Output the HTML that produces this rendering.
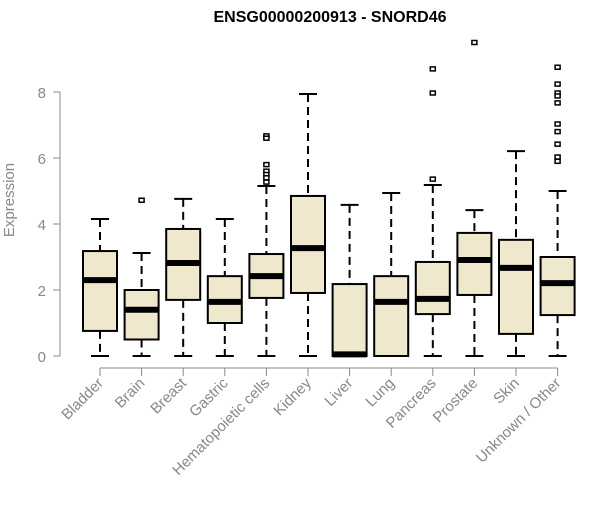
<!DOCTYPE html>
<html><head><meta charset="utf-8"><style>body{margin:0;background:#fff}svg{font-family:"Liberation Sans",sans-serif}</style></head>
<body>
<svg id="c" width="600" height="500">
<text x="330" y="22" text-anchor="middle" font-weight="bold" font-size="16">ENSG00000200913 - SNORD46</text>
<text transform="translate(14,200) rotate(-90)" text-anchor="middle" font-size="15" fill="#888">Expression</text>
</svg>
<script>
const categories=["Bladder","Brain","Breast","Gastric","Hematopoietic cells","Kidney","Liver","Lung","Pancreas","Prostate","Skin","Unknown / Other"];
const lows=[0,0,0,0,0,0,0,0,0,0,0,0];
const q1s=[0.76,0.5,1.7,1.0,1.76,1.91,0,0,1.27,1.85,0.67,1.24];
const medians=[2.3,1.4,2.82,1.64,2.42,3.27,0.05,1.64,1.73,2.91,2.67,2.21];
const q3s=[3.18,2.0,3.85,2.42,3.09,4.85,2.18,2.42,2.85,3.73,3.52,3.0];
const highs=[4.15,3.12,4.76,4.15,5.15,7.94,4.58,4.94,5.18,4.42,6.21,5.0];
const outliers=[[],[4.72],[],[],[6.67,6.6,5.8,5.6,5.5,5.4,5.27],[],[],[],[8.7,7.97,5.36],[9.5],[],[8.75,8.24,7.97,7.88,7.67,7.03,6.8,6.42,6.03,5.9]];
const yTicks=[0,2,4,6,8];
const svg=document.getElementById('c');const NS='http://www.w3.org/2000/svg';
const y=v=>356-v*33;const x=i=>100+i*41.6;const hw=17;
function mk(t,a){const e=document.createElementNS(NS,t);for(const k in a)e.setAttribute(k,a[k]);svg.appendChild(e);return e;}
let ax=mk('line',{x1:60,x2:60,y1:y(8),y2:y(0),stroke:'#888'});


let xax=mk('line',{x1:x(0),x2:x(categories.length-1),y1:368,y2:368,stroke:'#888'});


yTicks.forEach(v=>{
 const t=mk('line',{x1:53,x2:60,y1:y(v),y2:y(v),stroke:'#888'});
 
 
 const l=mk('text',{x:46,y:y(v)+6,'text-anchor':'end','font-size':15,fill:'#888'});l.textContent=v;
 
 
});
categories.forEach((c,i)=>{
 const cx=x(i);
 const g=document.createElementNS(NS,'g');svg.appendChild(g);
 
 
 const add=(t,a)=>{const e=document.createElementNS(NS,t);for(const k in a)e.setAttribute(k,a[k]);g.appendChild(e);return e;};
 add('line',{x1:cx,x2:cx,y1:y(highs[i]),y2:y(q3s[i]),stroke:'#000','stroke-width':2,'stroke-dasharray':'8,5'});
 add('line',{x1:cx,x2:cx,y1:y(q1s[i]),y2:y(lows[i]),stroke:'#000','stroke-width':2,'stroke-dasharray':'8,5'});
 add('line',{x1:cx-9,x2:cx+9,y1:y(highs[i]),y2:y(highs[i]),stroke:'#000','stroke-width':2});
 add('line',{x1:cx-9,x2:cx+9,y1:y(lows[i]),y2:y(lows[i]),stroke:'#000','stroke-width':2});
 add('rect',{x:cx-hw,y:y(q3s[i]),width:hw*2,height:Math.max(y(q1s[i])-y(q3s[i]),0),fill:'#efe8cd',stroke:'#000','stroke-width':2});
 add('line',{x1:cx-hw,x2:cx+hw,y1:y(medians[i]),y2:y(medians[i]),stroke:'#000','stroke-width':6});
 outliers[i].forEach(o=>add('rect',{x:cx-2.5,y:y(o)-2,width:5,height:4,fill:'#fff',stroke:'#000','stroke-width':1.5}));
 const tk=mk('line',{x1:cx,x2:cx,y1:368,y2:376,stroke:'#888'});
 
 
 const l=mk('text',{x:cx+4,y:384,'text-anchor':'end','font-size':15,fill:'#888',transform:`rotate(-45 ${cx+4} 384)`});l.textContent=c;
 
 
});
</script>
</body></html>
